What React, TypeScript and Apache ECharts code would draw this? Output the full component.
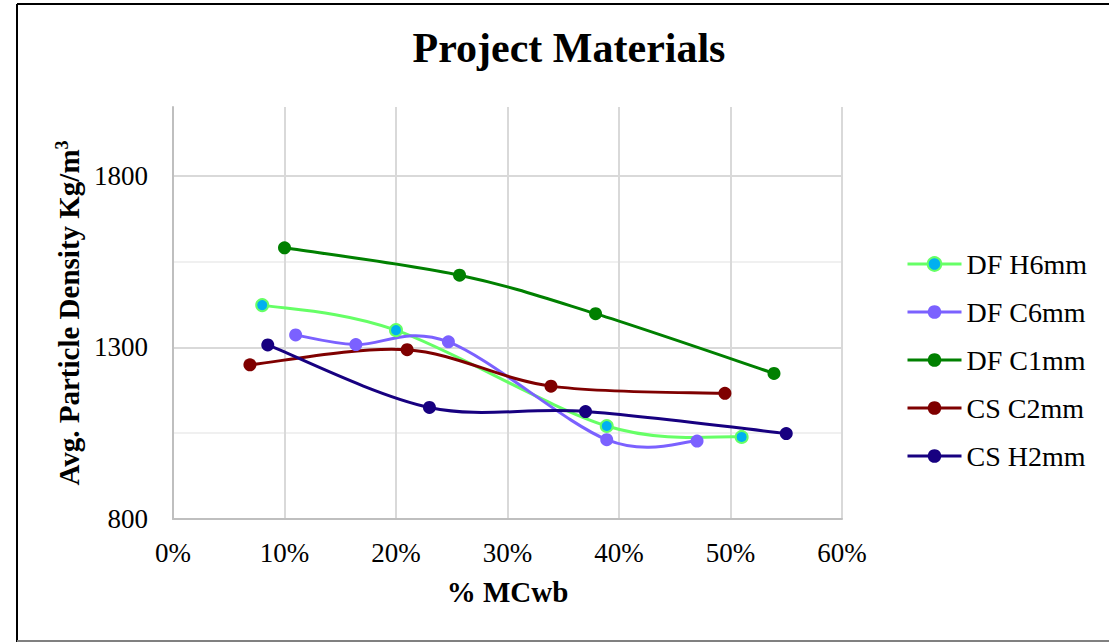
import React, { useEffect, useRef } from "react";
import * as echarts from "echarts";

// Moisture content (% wet basis) vs. average particle density (kg/m³)
const seriesNames = ["DF H6mm", "DF C6mm", "DF C1mm", "CS C2mm", "CS H2mm"];

const dfH6mm: [number, number][] = [
  [8.0, 1423],
  [20.0, 1350],
  [38.9, 1071],
  [51.0, 1039],
];
const dfC6mm: [number, number][] = [
  [11.0, 1336],
  [16.4, 1308],
  [24.7, 1316],
  [38.9, 1031],
  [47.0, 1027],
];
const dfC1mm: [number, number][] = [
  [10.0, 1590],
  [25.7, 1510],
  [37.9, 1398],
  [53.9, 1224],
];
const csC2mm: [number, number][] = [
  [6.9, 1249],
  [21.0, 1293],
  [33.9, 1187],
  [49.5, 1166],
];
const csH2mm: [number, number][] = [
  [8.5, 1307],
  [23.0, 1125],
  [37.0, 1113],
  [55.0, 1049],
];

const yLabelValues = [800, 1300, 1800];

const SERIF = "'Liberation Serif', 'Times New Roman', serif";

type Pt = [number, number];

// Cardinal (Catmull-Rom style) bezier path through pixel points.
function smoothPath(pts: number[][]): string {
  if (!pts.length) return "";
  let d = `M${pts[0][0]},${pts[0][1]}`;
  for (let i = 0; i < pts.length - 1; i++) {
    const p0 = pts[i - 1] || pts[i];
    const p1 = pts[i];
    const p2 = pts[i + 1];
    const p3 = pts[i + 2] || p2;
    const c1x = p1[0] + (p2[0] - p0[0]) / 6;
    const c1y = p1[1] + (p2[1] - p0[1]) / 6;
    const c2x = p2[0] - (p3[0] - p1[0]) / 6;
    const c2y = p2[1] - (p3[1] - p1[1]) / 6;
    d += ` C${c1x},${c1y} ${c2x},${c2y} ${p2[0]},${p2[1]}`;
  }
  return d;
}

export default function App() {
  const ref = useRef<HTMLDivElement>(null);

  useEffect(() => {
    if (!ref.current) return;
    const chart = echarts.init(ref.current, undefined, { renderer: "svg" });

    const defs = [
      { name: seriesNames[0], data: dfH6mm, line: "#66ff66", fill: "#00b0f0", size: 12, border: 2 },
      { name: seriesNames[1], data: dfC6mm, line: "#7b61ff", fill: "#7b61ff", size: 13, border: 0 },
      { name: seriesNames[2], data: dfC1mm, line: "#008000", fill: "#008000", size: 13, border: 0 },
      { name: seriesNames[3], data: csC2mm, line: "#7f0000", fill: "#7f0000", size: 13, border: 0 },
      { name: seriesNames[4], data: csH2mm, line: "#170080", fill: "#170080", size: 13, border: 0 },
    ];

    // Smoothed curves drawn through the axis scales
    const curveSeries = defs.map((s) => ({
      type: "custom",
      name: s.name + " curve",
      data: s.data,
      z: 2,
      silent: true,
      encode: { x: 0, y: 1 },
      renderItem: (params: any, api: any) => {
        if (params.dataIndex !== 0) return null;
        const pts = (s.data as Pt[]).map((p) => api.coord(p));
        return {
          type: "path",
          shape: { pathData: smoothPath(pts) },
          style: { fill: "none", stroke: s.line, lineWidth: 3 },
        };
      },
    }));

    // Markers (and legend entries)
    const markerSeries = defs.map((s) => ({
      name: s.name,
      type: "line",
      data: s.data,
      z: 3,
      symbol: "circle",
      symbolSize: s.size,
      showAllSymbol: true,
      lineStyle: { color: s.line, width: 3, opacity: 0 },
      itemStyle: { color: s.fill, borderColor: s.line, borderWidth: s.border },
      emphasis: { disabled: true },
    }));

    chart.setOption({
      animation: false,
      backgroundColor: "#ffffff",
      title: {
        text: "Project Materials",
        left: 564,
        top: 22,
        textAlign: "center",
        textStyle: {
          fontFamily: SERIF,
          fontWeight: "bold",
          fontSize: 42,
          color: "#000000",
        },
      },
      legend: {
        orient: "vertical",
        left: 906,
        top: 250,
        padding: 0,
        itemWidth: 54,
        itemHeight: 17,
        itemGap: 20,
        data: defs.map((s) => ({
          name: s.name,
          lineStyle: { color: s.line, width: 3, opacity: 1 },
        })),
        textStyle: {
          fontFamily: SERIF,
          fontSize: 28,
          lineHeight: 28,
          color: "#000000",
        },
      },
      grid: {
        left: 173,
        right: 267,
        top: 107,
        bottom: 123,
        containLabel: false,
      },
      xAxis: {
        type: "value",
        min: 0,
        max: 60,
        interval: 10,
        name: "% MCwb",
        nameLocation: "middle",
        nameGap: 58,
        nameTextStyle: {
          fontFamily: SERIF,
          fontWeight: "bold",
          fontSize: 29,
          color: "#000000",
        },
        axisLine: { show: true, lineStyle: { color: "#bfbfbf", width: 2 } },
        axisTick: { show: false },
        axisLabel: {
          formatter: (v: number) => `${v}%`,
          fontFamily: SERIF,
          fontSize: 27,
          color: "#000000",
          margin: 20,
        },
        splitLine: { show: true, lineStyle: { color: "#d9d9d9", width: 2 } },
      },
      yAxis: {
        type: "value",
        min: 800,
        max: 2000,
        interval: 250,
        name: "Avg. Particle Density Kg/m{sup|3}",
        nameLocation: "middle",
        nameGap: 80,
        nameRotate: 90,
        nameTextStyle: {
          fontFamily: SERIF,
          fontWeight: "bold",
          fontSize: 29,
          color: "#000000",
          rich: {
            sup: {
              fontFamily: SERIF,
              fontWeight: "bold",
              fontSize: 18,
              verticalAlign: "top",
              padding: [0, 0, 14, 0],
              color: "#000000",
            },
          },
        },
        axisLine: { show: true, lineStyle: { color: "#bfbfbf", width: 2 } },
        axisTick: { show: false },
        axisLabel: {
          formatter: (v: number) => (yLabelValues.includes(v) ? String(v) : ""),
          fontFamily: SERIF,
          fontSize: 27,
          color: "#000000",
          margin: 25,
        },
        splitLine: {
          show: true,
          showMaxLine: false,
          lineStyle: { color: ["#d9d9d9", "#f0f0f0"], width: 2 },
        },
      },
      graphic: [
        {
          type: "line",
          shape: { x1: 17, y1: 4, x2: 1109, y2: 4 },
          style: { stroke: "#000000", lineWidth: 2 },
          silent: true,
        },
        {
          type: "line",
          shape: { x1: 17, y1: 4, x2: 17, y2: 642 },
          style: { stroke: "#000000", lineWidth: 2 },
          silent: true,
        },
        {
          type: "line",
          shape: { x1: 17, y1: 641, x2: 1109, y2: 641 },
          style: { stroke: "#808080", lineWidth: 2 },
          silent: true,
        },
      ],
      series: [...curveSeries, ...markerSeries],
    });

    return () => chart.dispose();
  }, []);

  return (
    <div
      ref={ref}
      style={{
        position: "fixed",
        left: 0,
        top: 0,
        width: 1109,
        height: 642,
        background: "#ffffff",
      }}
    />
  );
}
